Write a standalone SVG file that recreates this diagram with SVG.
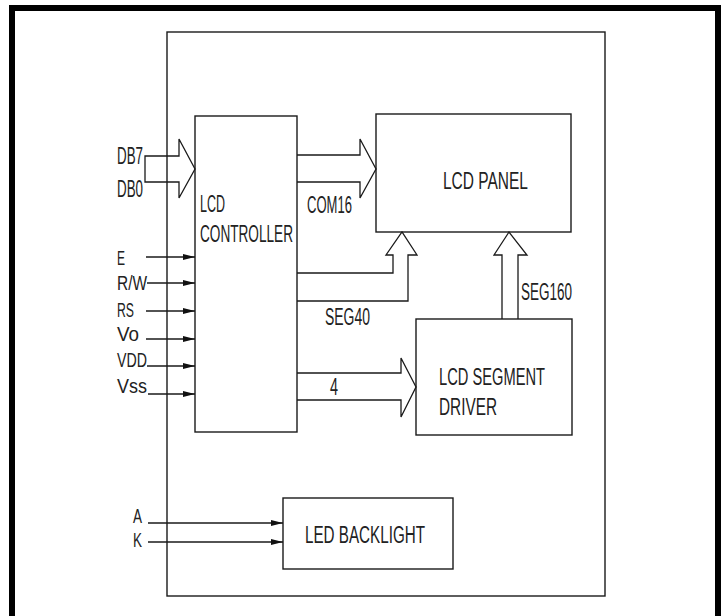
<svg xmlns="http://www.w3.org/2000/svg" width="726" height="616" viewBox="0 0 726 616">
<style>
.bx{fill:none;stroke:#1a1a1a;stroke-width:1.4}
.ln{fill:none;stroke:#1a1a1a;stroke-width:1.3}
.t{font-family:"Liberation Sans",Arial,sans-serif;font-size:23px;fill:#222}
.p{font-family:"Liberation Sans",Arial,sans-serif;font-size:20px;fill:#222}
</style>
<defs>
<marker id="ah" markerUnits="userSpaceOnUse" markerWidth="12" markerHeight="7" refX="12" refY="3.5" orient="auto">
<path d="M0,0.5 L12,3.5 L0,6.5 Z" fill="#111"/>
</marker>
</defs>
<rect width="726" height="616" fill="#fff"/>
<path id="frame" d="M12,616 V8 H718 V616" fill="none" stroke="#000" stroke-width="6"/>
<g id="module"><rect class="bx" x="167" y="32" width="438" height="564"/></g>
<g id="controller">
<rect class="bx" x="195" y="116" width="102" height="316"/>
<text class="t" x="200" y="212" textLength="25" lengthAdjust="spacingAndGlyphs">LCD</text>
<text class="t" x="200" y="242" textLength="93" lengthAdjust="spacingAndGlyphs">CONTROLLER</text>
</g>
<g id="panel">
<rect class="bx" x="376" y="114" width="195" height="118"/>
<text class="t" x="443" y="189" textLength="85" lengthAdjust="spacingAndGlyphs">LCD PANEL</text>
</g>
<g id="driver">
<rect class="bx" x="416" y="319" width="156" height="116"/>
<text class="t" x="439" y="385" textLength="106" lengthAdjust="spacingAndGlyphs">LCD SEGMENT</text>
<text class="t" x="439" y="415" textLength="58" lengthAdjust="spacingAndGlyphs">DRIVER</text>
</g>
<g id="backlight">
<rect class="bx" x="283" y="498" width="170" height="71"/>
<text class="t" x="305" y="543" textLength="120" lengthAdjust="spacingAndGlyphs">LED BACKLIGHT</text>
</g>
<g id="connectors">
<path class="ln" d="M145,156 H179 V139 L195,169 L179,198 V182 H145 Z"/>
<path class="ln" d="M297,155 H360 V139 L376,169 L360,198 V182 H297"/>
<path class="ln" d="M297,273 H393 V255 H386 L402,232 L417,255 H408 V301 H297"/>
<path class="ln" d="M502,319 V255 H494 L509,232 L527,255 H518 V319"/>
<path class="ln" d="M297,373 H401 V358 L416,387 L401,417 V400 H297"/>
<path class="ln" d="M146,257 H195" marker-end="url(#ah)"/>
<path class="ln" d="M147,283 H195" marker-end="url(#ah)"/>
<path class="ln" d="M146,311 H195" marker-end="url(#ah)"/>
<path class="ln" d="M146,339 H195" marker-end="url(#ah)"/>
<path class="ln" d="M147,366 H195" marker-end="url(#ah)"/>
<path class="ln" d="M148,394 H195" marker-end="url(#ah)"/>
<path class="ln" d="M148,523 H283" marker-end="url(#ah)"/>
<path class="ln" d="M148,542 H283" marker-end="url(#ah)"/>
</g>
<g id="labels">
<text class="t" x="117" y="164" textLength="26" lengthAdjust="spacingAndGlyphs">DB7</text>
<text class="t" x="117" y="197" textLength="26" lengthAdjust="spacingAndGlyphs">DB0</text>
<text class="p" x="117" y="265" textLength="8" lengthAdjust="spacingAndGlyphs">E</text>
<text class="p" x="117" y="290" textLength="30" lengthAdjust="spacingAndGlyphs">R/W</text>
<text class="p" x="117" y="317" textLength="17" lengthAdjust="spacingAndGlyphs">RS</text>
<text class="p" x="117" y="341" textLength="22" lengthAdjust="spacingAndGlyphs">Vo</text>
<text class="p" x="117" y="367" textLength="30" lengthAdjust="spacingAndGlyphs">VDD</text>
<text class="p" x="117" y="393" textLength="30" lengthAdjust="spacingAndGlyphs">Vss</text>
<text class="t" x="307" y="213" textLength="45" lengthAdjust="spacingAndGlyphs">COM16</text>
<text class="t" x="325" y="325" textLength="45" lengthAdjust="spacingAndGlyphs">SEG40</text>
<text class="t" x="521" y="300" textLength="51" lengthAdjust="spacingAndGlyphs">SEG160</text>
<text class="t" x="330" y="395" textLength="8" lengthAdjust="spacingAndGlyphs">4</text>
<text class="p" x="133" y="523" textLength="9" lengthAdjust="spacingAndGlyphs">A</text>
<text class="p" x="133" y="547" textLength="9" lengthAdjust="spacingAndGlyphs">K</text>
</g>
</svg>
